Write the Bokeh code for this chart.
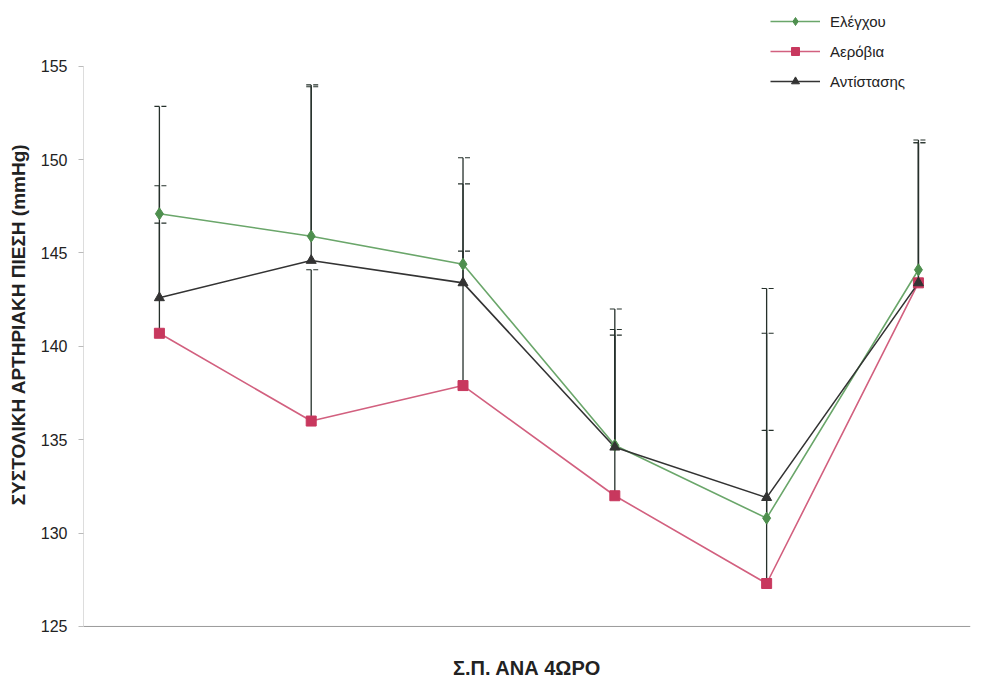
from bokeh.plotting import figure
from bokeh.models import (ColumnDataSource, Whisker, TeeHead, Legend, LegendItem,
                          FixedTicker, Range1d, Title, Span)
from bokeh.embed import file_html
from bokeh.resources import INLINE

# ---- data ----
periods = [1, 2, 3, 4, 5, 6]
control = [147.1, 145.9, 144.4, 134.7, 130.8, 144.1]
aerobic = [140.7, 136.0, 137.9, 132.0, 127.3, 143.4]
resistance = [142.6, 144.6, 143.4, 134.6, 131.9, 143.4]
control_up = [152.85, 153.9, 150.1, 142.0, 143.1, 151.05]
aerobic_up = [148.6, 144.1, 145.1, 140.6, 135.5, 150.9]
resistance_up = [146.6, 154.0, 148.7, 140.9, 140.7, 150.9]
y_ticks = [125, 130, 135, 140, 145, 150, 155]

FONT = "Liberation Sans"
GREEN, GREEN_M = "#6aa66a", "#4e8f4e"
RED, RED_M = "#d2607f", "#c8385e"
BLACK = "#333333"
WHISK = "#25302b"

p = figure(width=983, height=685, output_backend="svg", toolbar_location=None,
           x_range=Range1d(0.5, 6.343), y_range=Range1d(123.82, 158.52),
           min_border_left=83, min_border_right=13, min_border_top=0,
           min_border_bottom=35)
p.outline_line_color = None
p.grid.grid_line_color = None
p.background_fill_color = "white"

# baseline (x axis line at the lowest y tick)
p.add_layout(Span(location=y_ticks[0], dimension="width", line_color="#999999",
                  line_width=1))

# lines and markers
r_g_line = p.line(periods, control, line_color=GREEN, line_width=1.6)
r_r_line = p.line(periods, aerobic, line_color=RED, line_width=1.6)
r_b_line = p.line(periods, resistance, line_color=BLACK, line_width=1.6)
r_g = p.scatter(periods, control, marker="diamond", size=12, fill_color=GREEN_M,
                line_color=GREEN_M)
r_r = p.scatter(periods, aerobic, marker="square", size=10, fill_color=RED_M,
                line_color=RED_M)
r_b = p.scatter(periods, resistance, marker="triangle", size=10, fill_color=BLACK,
                line_color=BLACK)

# upper error bars
for means, ups in [(aerobic, aerobic_up), (control, control_up), (resistance, resistance_up)]:
    src = ColumnDataSource(dict(x=periods, lower=means, upper=ups))
    w = Whisker(source=src, base="x", lower="lower", upper="upper", dimension="height",
                line_color=WHISK, line_width=1.3, lower_head=None,
                upper_head=TeeHead(size=14, line_color=WHISK, line_width=1.1,
                                   line_dash="5 2"))
    p.add_layout(w)

# axes
p.yaxis.ticker = FixedTicker(ticks=y_ticks)
p.yaxis.bounds = (125, 155)
p.yaxis.axis_line_color = "#dddddd"
p.yaxis.major_tick_line_color = "#bbbbbb"
p.yaxis.major_tick_out = 5
p.yaxis.major_tick_in = 0
p.yaxis.minor_tick_line_color = None
p.yaxis.major_label_text_font = FONT
p.yaxis.major_label_text_font_size = "16px"
p.yaxis.major_label_text_color = "#222222"
p.yaxis.major_label_standoff = 11
p.yaxis.axis_label = "ΣΥΣΤΟΛΙΚΗ ΑΡΤΗΡΙΑΚΗ ΠΙΕΣΗ (mmHg)"
p.yaxis.axis_label_text_font = FONT
p.yaxis.axis_label_text_font_style = "bold"
p.yaxis.axis_label_text_font_size = "19px"
p.yaxis.axis_label_text_color = "#222222"
p.yaxis.axis_label_standoff = 9

p.xaxis.visible = False

xt = Title(text="Σ.Π. ΑΝΑ 4ΩΡΟ", align="center", offset=-27,
           text_font=FONT, text_font_style="bold", text_font_size="20px",
           text_color="#222222", standoff=13)
p.add_layout(xt, "below")

legend = Legend(items=[
    LegendItem(label="Ελέγχου", renderers=[r_g_line, r_g]),
    LegendItem(label="Αερόβια", renderers=[r_r_line, r_r]),
    LegendItem(label="Αντίστασης", renderers=[r_b_line, r_b]),
], location=(687, 557), orientation="vertical")
legend.border_line_color = None
legend.background_fill_alpha = 0
legend.label_text_font = FONT
legend.label_text_font_size = "15px"
legend.label_text_color = "#222222"
legend.glyph_width = 50
legend.glyph_height = 20
legend.label_height = 20
legend.spacing = 10
legend.padding = 5
legend.margin = 0
legend.label_standoff = 10
p.add_layout(legend)

open("out.html", "w").write(file_html(p, INLINE))
